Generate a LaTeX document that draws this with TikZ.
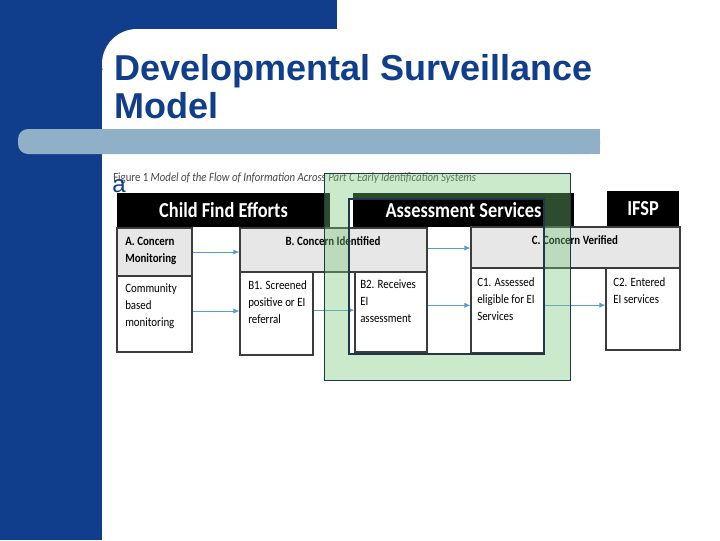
\documentclass[tikz,border=0pt]{standalone}
\usepackage{fontspec}
\setmainfont{Liberation Sans}
\newfontfamily\figfont[FakeStretch=0.86]{Carlito}
\usetikzlibrary{positioning}
\usetikzlibrary{fit}
\usetikzlibrary{arrows.meta}
\definecolor{slideblue}{RGB}{16,62,140}
\definecolor{barblue}{RGB}{143,176,199}
\definecolor{boxgray}{RGB}{231,231,231}
\definecolor{boxline}{RGB}{60,60,60}
\definecolor{flowblue}{RGB}{91,155,213}
\definecolor{markgreen}{RGB}{120,200,120}
\definecolor{markline}{RGB}{30,55,75}
\definecolor{captiongray}{RGB}{70,70,70}
\tikzset{
  box/.style={draw=boxline, line width=0.9pt, inner sep=0pt, fill=white},
  concern/.style={box, fill=boxgray},
  header/.style={fill=black, inner sep=0pt},
  headertext/.style={inner sep=0pt, text=white, font=\figfont\fontsize{16}{18}\selectfont\bfseries},
  boxtext/.style={anchor=north west, inner sep=0pt, align=left, font=\figfont\fontsize{9.5}{12.75}\selectfont},
  concerntext/.style={inner sep=0pt, font=\figfont\fontsize{9.5}{12.75}\selectfont\bfseries},
  flow/.style={draw=flowblue, line width=0.7pt, -{Latex[length=4.5pt,width=4pt]}},
}

\begin{document}
\begin{tikzpicture}[x=0.75pt, y=-0.75pt]
    \useasboundingbox (0,0) rectangle (720,540);
    % slide background
    \fill[white] (0,0) rectangle (720,540);
    \fill[slideblue] (0,0) rectangle (102,540);
    \fill[slideblue] (0,0) rectangle (337,29);
    \fill[slideblue] (102,29) rectangle (140,70);
    \fill[white] (137,64) circle[radius=26.25pt];
    \fill[barblue, rounded corners=7.5pt] (18,129) rectangle (600,154);
    \fill[barblue] (300,129) rectangle (600,154);

    \node[anchor=base west, inner sep=0pt, text=slideblue, font=\bfseries\fontsize{27}{30}\selectfont] (title) at (114,80) {Developmental Surveillance};
    \node[anchor=base west, inner sep=0pt, text=slideblue, font=\bfseries\fontsize{27}{30}\selectfont] (title2) at (114,118) {Model};

    % figure
    \node[anchor=base west, inner sep=0pt, text=captiongray, font=\figfont\fontsize{9.4}{10}\selectfont] (caption) at (113,181)
        {Figure 1 \textit{Model of the Flow of Information Across Part C Early Identification Systems}};
    \node[anchor=base west, inner sep=0pt, text=slideblue, font=\fontsize{18}{20}\selectfont] (bullet) at (112,192) {a};

    \node[header, fit={(117,193) (330,227)}] (cfe) {};
    \node[header, fit={(353,193) (574,227)}] (asv) {};
    \node[header, fit={(607,191) (679,227)}] (ifsp) {};
    \node[headertext] (tcfe) at (cfe.center) {Child Find Efforts};
    \node[headertext] (tasv) at (asv.center) {Assessment Services};
    \node[headertext] (tifsp) at (ifsp.center) {IFSP};

    \node[concern, fit={(117,228) (192,276)}] (A) {};
    \node[box, fit={(117,276) (192,352)}] (comm) {};
    \node[concern, fit={(240,228) (427,272)}] (B) {};
    \node[box, fit={(240,272) (313,355)}] (B1) {};
    \node[box, fit={(355,272) (427,352)}] (B2) {};
    \node[concern, fit={(471,227) (680,268)}] (C) {};
    \node[box, fit={(471,268) (544,353)}] (C1) {};
    \node[box, fit={(606,268) (680,350)}] (C2) {};

    \node[boxtext, font=\figfont\fontsize{9.5}{12.75}\selectfont\bfseries] (tA) at (125,237) {A. Concern\\Monitoring};
    \node[boxtext] (tcomm) at (125,284) {Community\\based\\monitoring};
    \node[concerntext] (tB) at (333,241) {B. Concern Identified};
    \node[boxtext] (tB1) at (248,280) {B1. Screened\\positive or EI\\referral};
    \node[boxtext] (tB2) at (360,280) {B2. Receives\\EI\\assessment};
    \node[concerntext] (tC) at (575,240) {C. Concern Verified};
    \node[boxtext] (tC1) at (477,277) {C1. Assessed\\eligible for EI\\Services};
    \node[boxtext] (tC2) at (613,277) {C2. Entered\\EI services};

    \draw[flow] (A.east) -- (A.east -| B.west);
    \draw[flow] ([yshift=2.2pt]comm.east) -- ([yshift=2.2pt]comm.east -| B1.west);
    \draw[flow] ([yshift=2.5pt]B1.east) -- ([yshift=2.5pt]B1.east -| B2.west);
    \draw[flow] ([yshift=1.5pt]B.east) -- ([yshift=1.5pt]B.east -| C.west);
    \draw[flow] ([yshift=5pt]B2.east) -- ([yshift=5pt]B2.east -| C1.west);
    \draw[flow] ([yshift=4pt]C1.east) -- ([yshift=4pt]C1.east -| C2.west);

    % highlight over the assessment part
    \fill[markgreen, fill opacity=0.38, even odd rule] (324,173) rectangle (570,380) (349,199) rectangle (544,354);
    \node[draw=markline, line width=0.6pt, inner sep=0pt, fit={(324,173) (570,380)}] (outer) {};
    \node[draw=markline, line width=0.9pt, inner sep=0pt, fit={(349,199) (544,354)}] (inner) {};
\end{tikzpicture}
\end{document}
